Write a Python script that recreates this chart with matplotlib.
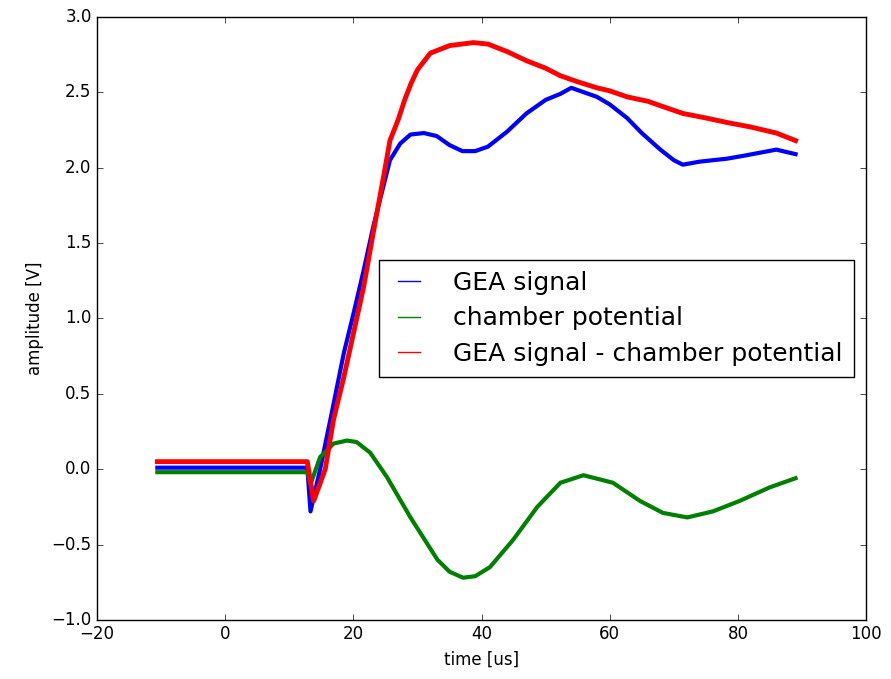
# =========================================================
#        GEA SIGNAL / CHAMBER POTENTIAL - PLOT
# =========================================================

import matplotlib
matplotlib.use("Agg")
import matplotlib.pyplot as plt

# =========================================================
# DATA
# =========================================================

gea_time = [
    -10.6, 0, 12.8, 13.3, 14.8, 16.6, 18.5, 20.0, 21.6, 23.1,
    24.4, 25.7, 27.3, 28.9, 31, 33, 35, 37, 39, 41,
    44, 47, 50, 52.3, 54, 56, 58, 60, 62.7, 65,
    67.9, 70, 71.4, 74, 78.3, 81, 83.5, 86, 89
]
gea_signal = [
    0.01, 0.01, 0.01, -0.28, 0.0, 0.37, 0.77, 1.03, 1.32, 1.61,
    1.83, 2.05, 2.16, 2.22, 2.23, 2.21, 2.15, 2.11, 2.11, 2.14,
    2.24, 2.36, 2.45, 2.49, 2.53, 2.50, 2.47, 2.42, 2.33, 2.23,
    2.12, 2.05, 2.02, 2.04, 2.06, 2.08, 2.10, 2.12, 2.09
]

chamber_time = [
    -10.6, 0, 12.8, 13.3, 14.8, 16.9, 19.0, 20.5, 22.6, 25.2,
    28.9, 33.1, 35, 37.1, 39, 41.3, 44.9, 48.7, 52.3, 55.9,
    60.5, 64.7, 68.3, 72.1, 76.1, 80.3, 85, 89
]
chamber_potential = [
    -0.02, -0.02, -0.02, -0.1, 0.08, 0.17, 0.19, 0.18, 0.11, -0.05,
    -0.32, -0.60, -0.68, -0.72, -0.71, -0.65, -0.47, -0.25, -0.09, -0.04,
    -0.09, -0.21, -0.29, -0.32, -0.28, -0.21, -0.12, -0.06
]

diff_time = [
    -10.6, 0, 12.8, 13.8, 15.6, 16.9, 18.5, 20.0, 21.6, 23.1,
    24.7, 25.7, 27.0, 28, 29, 30, 32, 35, 38.7, 41,
    44, 47, 50, 52.3, 55, 58, 60, 62.7, 66, 68,
    71.4, 75, 78.3, 82, 86, 89
]
diff_signal = [
    0.05, 0.05, 0.05, -0.21, 0.0, 0.33, 0.61, 0.90, 1.21, 1.57,
    1.94, 2.18, 2.32, 2.45, 2.56, 2.65, 2.76, 2.81, 2.83, 2.82,
    2.77, 2.71, 2.66, 2.61, 2.57, 2.53, 2.51, 2.47, 2.44, 2.41,
    2.36, 2.33, 2.30, 2.27, 2.23, 2.18
]

labels = [
    "GEA signal",
    "chamber potential",
    "GEA signal - chamber potential",
]

# =========================================================
# PLOT
# =========================================================

plt.style.use("classic")

fig = plt.figure(figsize=(8.91, 6.79), dpi=100, facecolor="white")

ax = fig.add_axes([0.109, 0.087, 0.863, 0.888])

ax.plot(gea_time, gea_signal, color="b", linewidth=3, label=labels[0])
ax.plot(chamber_time, chamber_potential, color="g", linewidth=3, label=labels[1])
ax.plot(diff_time, diff_signal, color="r", linewidth=3.5, label=labels[2])

ax.set_xlim(-20, 100)
ax.set_ylim(-1.0, 3.0)

ax.set_xlabel("time [us]", fontsize=12)
ax.set_ylabel("amplitude [V]", fontsize=12)

ax.tick_params(labelsize=12)

leg = ax.legend(
    loc="center right",
    fontsize=18,
    handlelength=1.5,
    handletextpad=1.0,
    borderpad=0.45,
    labelspacing=0.45,
)

# legend lines stay thin like the original
for line in leg.get_lines():
    line.set_linewidth(1)

fig.savefig("out.png", dpi=100, facecolor="white")
